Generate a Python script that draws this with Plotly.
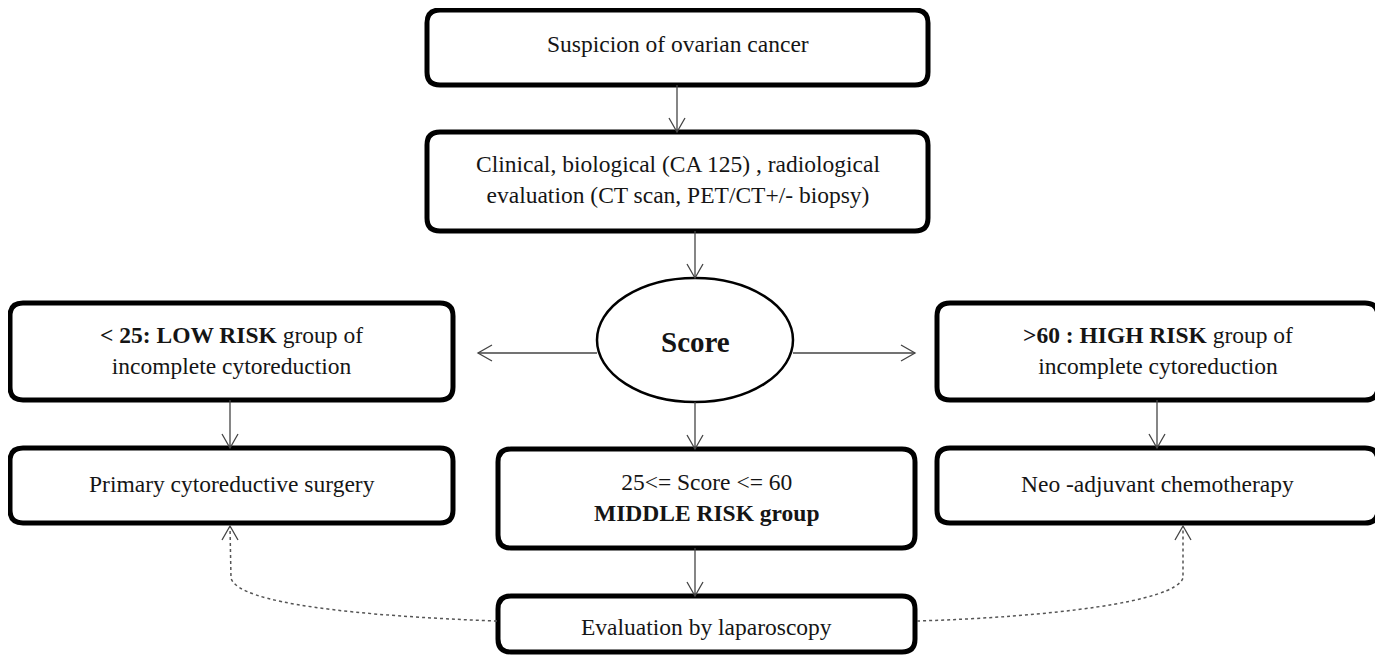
import plotly.graph_objects as go

W, H = 1383, 655
PAGE_OFF = 8  # default body margin of the html page

# ---- flowchart content ----
box_labels = [
    "Suspicion of ovarian cancer",
    "Clinical, biological (CA 125) , radiological<br>evaluation (CT scan, PET/CT+/- biopsy)",
    "<b>< 25: LOW RISK</b> group of<br>incomplete cytoreduction",
    "<b>>60 : HIGH RISK</b> group of<br>incomplete cytoreduction",
    "Primary cytoreductive surgery",
    "25<= Score <= 60<br><b>MIDDLE RISK group</b>",
    "Neo -adjuvant chemotherapy",
    "Evaluation by laparoscopy",
]
box_x0 = [427, 427, 10, 937, 10, 498, 937, 498]
box_x1 = [928, 928, 453, 1378, 453, 915, 1378, 915]
box_y0 = [10, 132, 303, 303, 448, 449, 448, 596]
box_y1 = [85, 231, 400, 400, 523, 548, 523, 652]
box_text_y = [44, 179, 350, 350, 484, 497, 484, 627]

ellipse_label = "<b>Score</b>"
ellipse_box = [597, 278, 793, 402]   # x0, y0, x1, y1

# arrows: (x_start, y_start, x_end, y_end)
arrows = [
    (677, 85, 677, 132),
    (695, 231, 695, 278),
    (597, 353, 478, 353),
    (793, 353, 915, 353),
    (230, 400, 230, 448),
    (1157, 400, 1157, 448),
    (695, 402, 695, 449),
    (695, 548, 695, 596),
]

# dotted feedback curves (path, arrow tip)
dotted_paths = [
    ("M 497,621 C 360,616 238,604 231,578 L 230,527", (230, 526)),
    ("M 917,621 C 1050,617 1175,602 1183,578 L 1183,527", (1183, 526)),
]

FONT = "Liberation Serif, DejaVu Serif, serif"
TXT = "#151515"


def rrect(x0, y0, x1, y1, r=13):
    return (f"M {x0+r},{y0} L {x1-r},{y0} Q {x1},{y0} {x1},{y0+r} "
            f"L {x1},{y1-r} Q {x1},{y1} {x1-r},{y1} L {x0+r},{y1} "
            f"Q {x0},{y1} {x0},{y1-r} L {x0},{y0+r} Q {x0},{y0} {x0+r},{y0} Z")


def vhead(x, y, dx, dy, L=14, hw=8):
    n = (dx * dx + dy * dy) ** 0.5
    ux, uy = dx / n, dy / n
    px, py = -uy, ux
    bx, by = x - ux * L, y - uy * L
    return (f"M {bx+px*hw:.1f},{by+py*hw:.1f} L {x},{y} "
            f"L {bx-px*hw:.1f},{by-py*hw:.1f}")


fig = go.Figure()
shapes = []
annotations = []

for lab, x0, x1, y0, y1, ty in zip(box_labels, box_x0, box_x1, box_y0, box_y1, box_text_y):
    shapes.append(dict(type="path", path=rrect(x0, y0, x1, y1),
                       line=dict(color="#000000", width=5), fillcolor="white",
                       xref="x", yref="y", layer="below"))
    annotations.append(dict(x=(x0 + x1) / 2, y=ty, text=lab, showarrow=False,
                            xref="x", yref="y", align="center",
                            font=dict(family=FONT, size=23.5, color=TXT)))

ex0, ey0, ex1, ey1 = ellipse_box
shapes.append(dict(type="circle", x0=ex0, y0=ey0, x1=ex1, y1=ey1,
                   line=dict(color="#000000", width=2.5), fillcolor="white",
                   xref="x", yref="y", layer="below"))
annotations.append(dict(x=(ex0 + ex1) / 2, y=(ey0 + ey1) / 2 + 2, text=ellipse_label,
                        showarrow=False, xref="x", yref="y",
                        font=dict(family=FONT, size=29, color=TXT)))

ACOL = "#444444"
for xs, ys, xe, ye in arrows:
    shapes.append(dict(type="line", x0=xs, y0=ys, x1=xe, y1=ye,
                       line=dict(color=ACOL, width=1.3), xref="x", yref="y"))
    shapes.append(dict(type="path", path=vhead(xe, ye, xe - xs, ye - ys),
                       line=dict(color=ACOL, width=1.3), xref="x", yref="y"))

for p, (tx, ty) in dotted_paths:
    shapes.append(dict(type="path", path=p, line=dict(color="#555555", width=1.5, dash="dot"),
                       xref="x", yref="y"))
    shapes.append(dict(type="path", path=vhead(tx, ty, 0, -1),
                       line=dict(color=ACOL, width=1.3), xref="x", yref="y"))

fig.update_layout(
    width=W - PAGE_OFF, height=H - PAGE_OFF,
    margin=dict(l=0, r=0, t=0, b=0),
    paper_bgcolor="white", plot_bgcolor="white",
    shapes=shapes, annotations=annotations,
    xaxis=dict(range=[PAGE_OFF, W], visible=False, fixedrange=True),
    yaxis=dict(range=[H, PAGE_OFF], visible=False, fixedrange=True),
    showlegend=False,
)

fig.write_html("out.html")
